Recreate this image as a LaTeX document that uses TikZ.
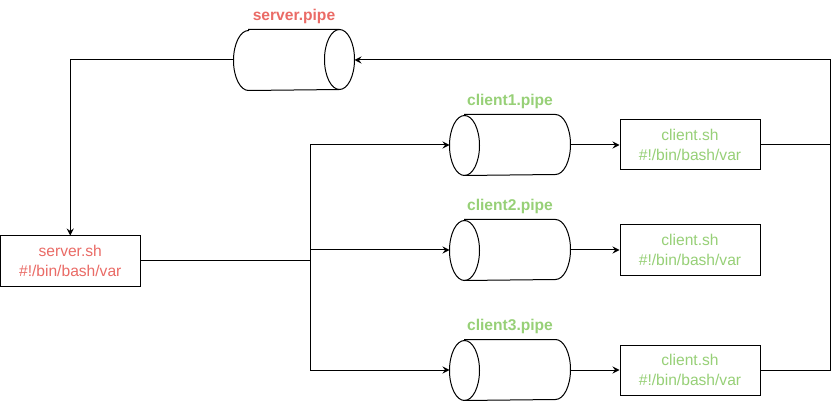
\documentclass[tikz,border=0pt]{standalone}
\usepackage{fontspec}
\setmainfont{Liberation Sans}
\usetikzlibrary{arrows.meta,calc}
\definecolor{redtxt}{HTML}{EA6B66}
\definecolor{greentxt}{HTML}{97D077}
\newcommand\pipeshape[1]{%
  \draw[fill=white] ([xshift=15pt]#1.north west) -- ([xshift=-15pt]#1.north east)
    arc[start angle=90,end angle=-90,x radius=15pt,y radius=30pt]
    -- ([xshift=15pt]#1.south west)
    arc[start angle=270,end angle=90,x radius=15pt,y radius=30pt] -- cycle;}
\newcommand\pipecapleft[1]{%
  \pipeshape{#1}%
  \draw ([xshift=15pt]#1.south west) arc[start angle=-90,end angle=90,x radius=15pt,y radius=30pt];}
\newcommand\pipecapright[1]{%
  \pipeshape{#1}%
  \draw ([xshift=-15pt]#1.north east) arc[start angle=90,end angle=270,x radius=15pt,y radius=30pt];}
\begin{document}
\begin{tikzpicture}[x=1pt,y=1pt,line width=1pt,
  arr/.style={-{Stealth[length=7pt,width=7pt,inset=2.5pt]}},
  box/.style={draw,fill=white,minimum width=140pt,minimum height=50pt,inner sep=0pt,align=center,font=\fontsize{15.6}{19.5}\selectfont},
  pipe/.style={minimum width=120pt,minimum height=60pt,inner sep=0pt},
  plabel/.style={font=\fontsize{15.6}{19.5}\selectfont\bfseries,inner sep=0pt}]
\useasboundingbox (0,0) rectangle (839,-401);
% pipes
\node[pipe] (sp) at (294,-60) {};
\node[pipe] (p1) at (510,-145) {};
\node[pipe] (p2) at (510,-250) {};
\node[pipe] (p3) at (510,-370) {};
\pipecapright{sp}
\pipecapleft{p1}
\pipecapleft{p2}
\pipecapleft{p3}
\node[plabel,text=redtxt] (lsp) at (294,-16) {server.pipe};
\node[plabel,text=greentxt] (lp1) at (510,-101) {client1.pipe};
\node[plabel,text=greentxt] (lp2) at (510,-206) {client2.pipe};
\node[plabel,text=greentxt] (lp3) at (510,-326) {client3.pipe};
% boxes
\node[box,text=redtxt,minimum width=139.5pt] (ss) at (70.25,-261) {server.sh\\\#!/bin/bash/var};
\node[box,text=greentxt] (c1) at (690,-145) {client.sh\\\#!/bin/bash/var};
\node[box,text=greentxt] (c2) at (690,-250) {client.sh\\\#!/bin/bash/var};
\node[box,text=greentxt] (c3) at (690,-370) {client.sh\\\#!/bin/bash/var};
% connectors
\coordinate (split) at (310,-261);
\coordinate (rt) at (830,-60);
\draw[arr] (sp.west) -| (ss.north);
\draw (ss.east) -- (split);
\draw[arr] (split) |- (p1.west);
\draw[arr] (split) |- (p2.west);
\draw[arr] (split) |- (p3.west);
\draw[arr] (p1.east) -- (c1.west);
\draw[arr] (p2.east) -- (c2.west);
\draw[arr] (p3.east) -- (c3.west);
\draw[arr] (c1.east) -| (rt) -- (sp.east);
\draw (c3.east) -| (rt);
\end{tikzpicture}
\end{document}
